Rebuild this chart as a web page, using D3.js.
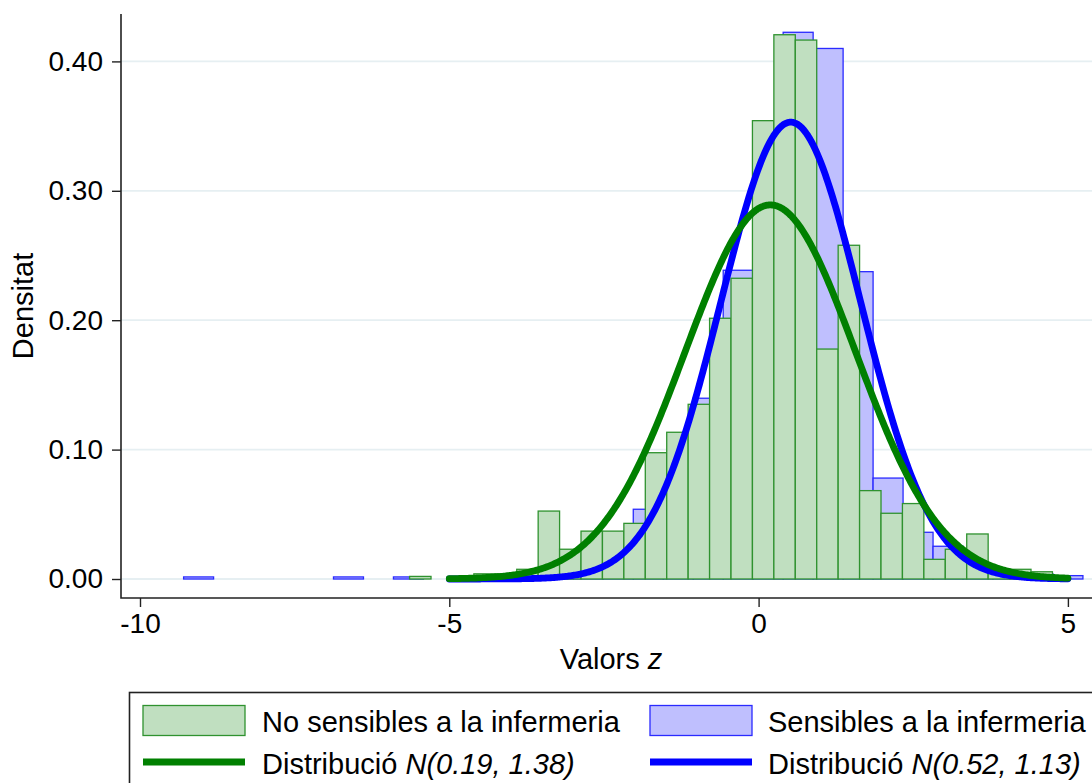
<!DOCTYPE html>
<html>
<head>
<meta charset="utf-8">
<script src="https://cdn.jsdelivr.net/npm/d3@7"></script>
<style>
  html, body { margin: 0; padding: 0; background: #fff; }
  svg { display: block; }
  text { font-family: "Liberation Sans", Arial, Helvetica, sans-serif; fill: #000; }
</style>
</head>
<body>
<svg id="chart" width="1092" height="783"></svg>
<script>
// Histogram of z values: "No sensibles a la infermeria" (30 bins)
const noSensStart = -5.642;
const noSensWidth = 0.3464;
const noSensDensity = [
  0.002, 0, 0, 0.004, 0.004, 0.0075, 0.0525, 0.023, 0.037, 0.037,
  0.043, 0.0976, 0.1134, 0.135, 0.2015, 0.2324, 0.3542, 0.4206, 0.4165, 0.1777,
  0.2579, 0.0683, 0.0508, 0.0583, 0.0152, 0.023, 0.0348, 0.0075, 0.0075, 0.0056
];

// Histogram of z values: "Sensibles a la infermeria" (30 bins)
const sensStart = -9.295;
const sensWidth = 0.4846;
const sensDensity = [
  0.0016, 0, 0, 0, 0, 0.0016, 0, 0.0016, 0, 0,
  0.003, 0.003, 0.003, 0.008, 0.02, 0.0539, 0.085, 0.1397, 0.2386, 0.275,
  0.4225, 0.410, 0.2375, 0.078, 0.0361, 0.0253, 0.01, 0.005, 0.004, 0.0026
];

// Fitted normal distributions (mean, sd) and the range they are drawn over
const fitLabels = ["Distribució ", "Distribució "];
const fitMeans = [0.19, 0.52];
const fitSds = [1.38, 1.13];
const fitRange = [-5, 5];

const xTicks = [-10, -5, 0, 5];
const yTicks = [0, 0.1, 0.2, 0.3, 0.4];
const seriesNames = ["No sensibles a la infermeria", "Sensibles a la infermeria"];

const GREEN = "#008000", BLUE = "#0000ff";
const GREEN_FILL = "#c0dfc0", BLUE_FILL = "#bfbffe";
const GREEN_EDGE = "#2f922f", BLUE_EDGE = "#2a2aff";

const svg = d3.select("#chart");

const x = d3.scaleLinear().domain([-10, 5]).range([140, 1067.9]);
const y = d3.scaleLinear().domain([0, 0.4]).range([579, 61.4]);

const axisX = 121, axisY = 598;

// horizontal grid
svg.append("g").selectAll("line").data(yTicks).join("line")
  .attr("x1", axisX).attr("x2", 1092)
  .attr("y1", d => y(d)).attr("y2", d => y(d))
  .attr("stroke", "#e6eff2").attr("stroke-width", 1.8);

function bins(start, width, dens) {
  return dens.map((d, i) => ({ x0: start + i * width, x1: start + (i + 1) * width, d }));
}

function drawHist(data, fill, edge) {
  svg.append("g").selectAll("rect").data(data.filter(b => b.d > 0)).join("rect")
    .attr("x", b => x(b.x0))
    .attr("width", b => x(b.x1) - x(b.x0))
    .attr("y", b => y(b.d))
    .attr("height", b => y(0) - y(b.d))
    .attr("fill", fill)
    .attr("stroke", edge)
    .attr("stroke-width", 1.3);
}

drawHist(bins(sensStart, sensWidth, sensDensity), BLUE_FILL, BLUE_EDGE);
drawHist(bins(noSensStart, noSensWidth, noSensDensity), GREEN_FILL, GREEN_EDGE);

// normal density curves
function normalPdf(z, m, s) {
  return Math.exp(-0.5 * ((z - m) / s) ** 2) / (s * Math.sqrt(2 * Math.PI));
}
const zs = d3.range(fitRange[0], fitRange[1] + 1e-9, 0.02);
const line = d3.line().x(p => x(p[0])).y(p => y(p[1]));
[[1, BLUE], [0, GREEN]].forEach(([k, col]) => {
  svg.append("path")
    .datum(zs.map(z => [z, normalPdf(z, fitMeans[k], fitSds[k])]))
    .attr("d", line)
    .attr("fill", "none")
    .attr("stroke", col)
    .attr("stroke-width", 6.8)
    .attr("stroke-linecap", "round")
    .attr("stroke-linejoin", "round");
});

// axes
const yAxis = d3.axisLeft(y).tickValues(yTicks).tickFormat(d3.format(".2f"))
  .tickSize(9).tickPadding(9);
const gy = svg.append("g").attr("transform", `translate(${axisX},0)`).call(yAxis);
gy.select(".domain").remove();
gy.selectAll(".tick line").attr("stroke", "#222").attr("stroke-width", 1.4);
gy.selectAll(".tick text").attr("font-size", 28).attr("font-family", null).attr("fill", "#000");

const xAxis = d3.axisBottom(x).tickValues(xTicks).tickFormat(d3.format("d"))
  .tickSize(9).tickPadding(6);
const gx = svg.append("g").attr("transform", `translate(0,${axisY})`).call(xAxis);
gx.select(".domain").remove();
gx.selectAll(".tick line").attr("stroke", "#222").attr("stroke-width", 1.4);
gx.selectAll(".tick text").attr("font-size", 28).attr("font-family", null).attr("fill", "#000")
  .text(d => d < 0 ? "-" + Math.abs(d) : d);

svg.append("path")
  .attr("d", `M${axisX},14 V${axisY} H1092`)
  .attr("fill", "none").attr("stroke", "#222").attr("stroke-width", 1.6);

// axis titles
const xt = svg.append("text").attr("x", 611).attr("y", 669)
  .attr("text-anchor", "middle").attr("font-size", 29);
xt.append("tspan").text("Valors ");
xt.append("tspan").attr("font-style", "italic").text("z");

svg.append("text")
  .attr("transform", "translate(33,306) rotate(-90)")
  .attr("text-anchor", "middle").attr("font-size", 29)
  .text("Densitat");

// legend
const lg = svg.append("g");
lg.append("rect").attr("x", 129.5).attr("y", 692.5).attr("width", 1000).attr("height", 120)
  .attr("fill", "#fff").attr("stroke", "#222").attr("stroke-width", 1.6);

const cols = [143, 650];
const textX = [262, 768];
const fills = [GREEN_FILL, BLUE_FILL], edges = [GREEN_EDGE, BLUE_EDGE], lines = [GREEN, BLUE];
[0, 1].forEach(k => {
  lg.append("rect").attr("x", cols[k]).attr("y", 705.5).attr("width", 102).attr("height", 30)
    .attr("fill", fills[k]).attr("stroke", edges[k]).attr("stroke-width", 1.3);
  lg.append("text").attr("x", textX[k]).attr("y", 732).attr("font-size", 29)
    .text(seriesNames[k]);
  lg.append("line").attr("x1", cols[k]).attr("x2", cols[k] + 102)
    .attr("y1", 762).attr("y2", 762)
    .attr("stroke", lines[k]).attr("stroke-width", 6.8);
  const t = lg.append("text").attr("x", textX[k]).attr("y", 774).attr("font-size", 29);
  t.append("tspan").text(fitLabels[k]);
  t.append("tspan").attr("font-style", "italic")
    .text(`N(${fitMeans[k].toFixed(2)}, ${fitSds[k].toFixed(2)})`);
});
</script>
</body>
</html>
